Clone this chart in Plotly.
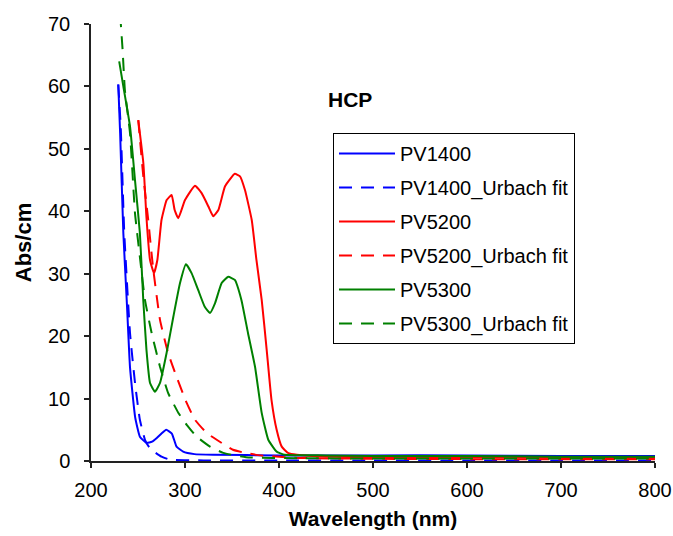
import plotly.graph_objects as go

# ---- data ----
pv1400_x = [229, 231, 234.4, 238, 241.5, 247, 252, 259, 265, 270, 275, 280, 286, 291, 298, 310,
            330, 400, 500, 600, 700, 800]
pv1400_y = [60.3, 52.5, 36.5, 25.8, 15.0, 7.0, 3.9, 2.9, 3.1, 3.7, 4.4, 5.0, 4.4, 2.3, 1.5, 1.1,
            1.0, 0.9, 0.9, 0.9, 0.8, 0.8]

pv1400_fit_x = [229, 231.6, 235.4, 241.5, 246.8, 252, 257.4, 262, 268, 275, 282, 290, 320, 400, 500,
                600, 700, 800]
pv1400_fit_y = [60.3, 53.6, 36.5, 20.5, 12.5, 6.6, 3.4, 2.2, 1.4, 0.7, 0.3, 0.15, 0.1, 0.1, 0.1,
                0.1, 0.1, 0.1]

pv5200_x = [250.3, 255.7, 259, 262.8, 267, 270.6, 275, 280.5, 285.8, 289, 292.9, 300, 310.6, 317.7,
            324.8, 330, 335.5, 342.6, 353, 358.5, 363.8, 371, 376, 381.6, 386.9, 392, 397.5, 402.9,
            410, 419, 450, 500, 600, 700, 800]
pv5200_y = [54.6, 47.7, 39.0, 32.2, 30.1, 32.2, 38.6, 41.8, 42.6, 40.2, 38.9, 41.8, 44.1, 42.9,
            40.8, 39.2, 40.2, 44.0, 46.0, 45.6, 43.4, 38.6, 32.2, 25.8, 17.8, 9.8, 5.0, 2.3,
            1.25, 1.0, 0.7, 0.6, 0.6, 0.5, 0.5]

pv5200_fit_x = [250.3, 255.7, 260.6, 266, 273.4, 282, 291, 301.8, 310.6, 323, 333.7, 351, 364, 380,
                420, 500, 600, 700, 800]
pv5200_fit_y = [54.6, 45.5, 39.0, 31.0, 22.6, 17.3, 13.5, 9.3, 6.6, 4.5, 3.4, 1.8, 1.3, 0.9,
                0.5, 0.35, 0.3, 0.3, 0.3]

pv5300_x = [230, 234.4, 241.5, 246.8, 252, 255.6, 259, 262.8, 268, 273.4, 280.4, 287.6, 294.7, 301,
            307, 314, 321, 326.6, 332, 339, 346, 353, 360, 367, 374.5, 381.6, 388.6, 397.5, 406,
            450, 500, 600, 700, 800]
pv5300_y = [64.0, 60.0, 53.6, 45.0, 36.5, 25.8, 17.8, 12.5, 11.1, 12.5, 17.3, 23.1, 28.5, 31.5,
            30.1, 27.4, 24.7, 23.7, 25.3, 28.5, 29.5, 29.0, 25.8, 20.5, 15.1, 7.7, 3.4, 1.5, 1.0,
            0.9, 0.8, 0.8, 0.7, 0.7]

pv5300_fit_x = [231, 233.6, 236, 241.5, 246.8, 252, 257.4, 264.5, 273.4, 282, 293, 301.8, 312.4,
                326.6, 340.7, 365, 420, 500, 600, 700, 800]
pv5300_fit_y = [71.6, 65.9, 59.5, 52.5, 39.7, 32.7, 25.8, 20.5, 15.1, 10.9, 7.7, 5.8, 3.9, 2.3,
                1.3, 0.6, 0.45, 0.4, 0.4, 0.4, 0.4]

x_ticks = [200, 300, 400, 500, 600, 700, 800]
y_ticks = [0, 10, 20, 30, 40, 50, 60, 70]

BLUE = "#0000FF"
RED = "#FF0000"
GREEN = "#008000"
DASH = "13px,9px"

series = [
    ("PV1400", pv1400_x, pv1400_y, BLUE, "solid"),
    ("PV1400_Urbach fit", pv1400_fit_x, pv1400_fit_y, BLUE, DASH),
    ("PV5200", pv5200_x, pv5200_y, RED, "solid"),
    ("PV5200_Urbach fit", pv5200_fit_x, pv5200_fit_y, RED, DASH),
    ("PV5300", pv5300_x, pv5300_y, GREEN, "solid"),
    ("PV5300_Urbach fit", pv5300_fit_x, pv5300_fit_y, GREEN, DASH),
]

fig = go.Figure()
for i, (name, xs, ys, col, dash) in enumerate(series):
    fig.add_trace(go.Scatter(
        x=xs, y=ys, name=name, mode="lines", legendgroup=f"g{i}",
        line=dict(color=col, width=2, dash=dash, shape="spline", smoothing=0.4),
    ))

FONT = "Arial, Liberation Sans, sans-serif"
L, R, T, B = 91, 18, 24, 75

fig.update_layout(
    width=673, height=536,
    margin=dict(l=L, r=R, t=T, b=B),
    paper_bgcolor="white", plot_bgcolor="white",
    font=dict(family=FONT, size=20, color="black"),
    showlegend=True,
    legend=dict(
        x=(333 - L) / (673 - L - R), y=1 - (133 - T) / (536 - T - B),
        xanchor="left", yanchor="top",
        bordercolor="black", borderwidth=1, bgcolor="white",
        font=dict(family=FONT, size=20, color="black"),
        tracegroupgap=5, itemwidth=56,
    ),
    xaxis=dict(
        range=[200, 800], tickvals=x_ticks, ticktext=[str(v) for v in x_ticks],
        automargin=False,
        showgrid=False, zeroline=False, showline=True, linecolor="#222", linewidth=1.5,
        ticks="outside", ticklen=5, tickcolor="#222", tickwidth=1.5,
        tickfont=dict(family=FONT, size=20), ticklabelstandoff=5,
        title=dict(text="<b>Wavelength (nm)</b>", font=dict(family=FONT, size=21), standoff=12),
    ),
    yaxis=dict(
        range=[0, 70], tickvals=y_ticks, ticktext=[str(v) for v in y_ticks],
        automargin=False,
        showgrid=False, zeroline=False, showline=True, linecolor="#222", linewidth=1.5,
        ticks="outside", ticklen=5, tickcolor="#222", tickwidth=1.5,
        tickfont=dict(family=FONT, size=20), ticklabelstandoff=10,
        title=dict(text="<b>Abs/cm</b>", font=dict(family=FONT, size=22), standoff=10),
    ),
    annotations=[dict(
        text="<b>HCP</b>", xref="paper", yref="paper",
        x=(349.5 - L) / (673 - L - R), y=1 - (99 - T) / (536 - T - B),
        xanchor="center", yanchor="middle", showarrow=False,
        font=dict(family=FONT, size=21, color="black"),
    )],
)

fig.write_html("out.html")
